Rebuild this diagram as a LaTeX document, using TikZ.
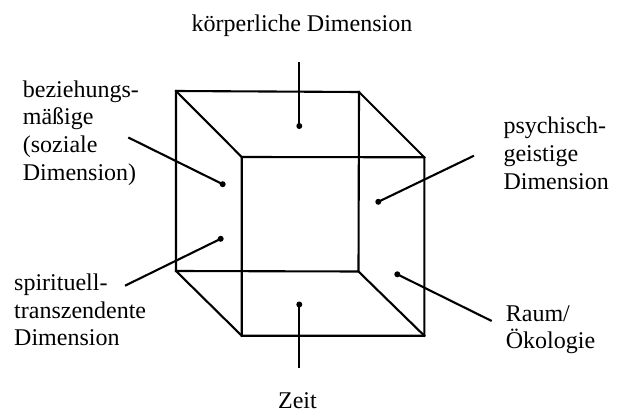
\documentclass[tikz,border=0pt]{standalone}
\usepackage{fontspec}
\setmainfont{Liberation Serif}
\begin{document}
\begin{tikzpicture}[x=1pt,y=-1pt,
  edge/.style={line width=2.1pt,line join=miter,line cap=rect},
  leader/.style={line width=2.1pt},
  dot/.style={circle,fill,inner sep=0pt,minimum size=6pt},
  lbl/.style={inner sep=0pt,font=\fontsize{24}{27.6}\selectfont}]
\useasboundingbox (0,0) rectangle (622,412);
% cube corners
\coordinate (B1) at (176,91);
\coordinate (B2) at (359,92);
\coordinate (B3) at (358.5,271.5);
\coordinate (B4) at (176,271);
\coordinate (F1) at (241.7,157);
\coordinate (F2) at (424.3,157.3);
\coordinate (F3) at (424.3,335.7);
\coordinate (F4) at (241.7,335.7);
\draw[edge] (B1) -- (B2) -- (B3) -- (B4) -- cycle;
\draw[edge] (F1) -- (F2) -- (F3) -- (F4) -- cycle;
\draw[edge] (B1) -- (F1);
\draw[edge] (B2) -- (F2);
\draw[edge] (B3) -- (F3);
\draw[edge] (B4) -- (F4);
% dots and free ends
\node[dot] (dT) at (299.3,126) {};
\node[dot] (dL1) at (222.7,184.2) {};
\node[dot] (dL2) at (220.7,238.8) {};
\node[dot] (dR1) at (378.3,201.8) {};
\node[dot] (dR2) at (397.3,274.3) {};
\node[dot] (dB) at (299.3,304.5) {};
\coordinate (eT) at (299.3,62.5);
\coordinate (eL1) at (128.3,137.5);
\coordinate (eL2) at (125,285.7);
\coordinate (eR1) at (474,155.7);
\coordinate (eR2) at (491.7,321);
\coordinate (eB) at (299.3,368);
\draw[leader] (eT) -- (dT.center);
\draw[leader] (eL1) -- (dL1.center);
\draw[leader] (eL2) -- (dL2.center);
\draw[leader] (eR1) -- (dR1.center);
\draw[leader] (eR2) -- (dR2.center);
\draw[leader] (eB) -- (dB.center);
% labels
\node[lbl,anchor=base] (tT) at (302,31.7) {körperliche Dimension};
\node[lbl,anchor=base west] (tL1) at (22.7,97.3) {\begin{tabular}[t]{@{}l@{}}beziehungs-\\mäßige\\(soziale\\Dimension)\end{tabular}};
\node[lbl,anchor=base west] (tL2) at (14,290.5) {\begin{tabular}[t]{@{}l@{}}spirituell-\\transzendente\\Dimension\end{tabular}};
\node[lbl,anchor=base west] (tR1) at (503.3,134) {\begin{tabular}[t]{@{}l@{}}psychisch-\\geistige\\Dimension\end{tabular}};
\node[lbl,anchor=base west] (tR2) at (505.7,321) {\begin{tabular}[t]{@{}l@{}}Raum/\\Ökologie\end{tabular}};
\node[lbl,anchor=base,text depth=0pt] (tB) at (297.5,408) {Zeit};
\end{tikzpicture}
\end{document}
